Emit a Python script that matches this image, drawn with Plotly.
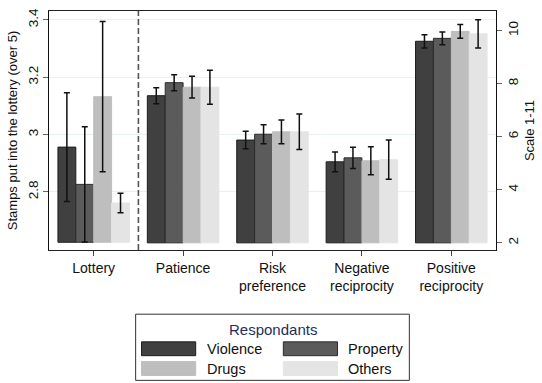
import plotly.graph_objects as go

# Categories on the x axis (Lottery on the left axis, the rest on the 1-11 scale)
categories = ["Lottery", "Patience", "Risk<br>preference", "Negative<br>reciprocity", "Positive<br>reciprocity"]
groups = ["Violence", "Property", "Drugs", "Others"]

# Lottery: stamps put into the lottery (over 5), mean and CI half-width
lottery_mean = {"Violence": 2.956, "Property": 2.826, "Drugs": 3.132, "Others": 2.761}
lottery_err = {"Violence": 0.190, "Property": 0.201, "Drugs": 0.262, "Others": 0.034}

# Preference scales 1-11: Patience, Risk, Negative reciprocity, Positive reciprocity
scale_mean = {
    "Violence": [7.54, 5.87, 5.05, 9.59],
    "Property": [8.03, 6.09, 5.20, 9.70],
    "Drugs":    [7.86, 6.18, 5.09, 9.96],
    "Others":   [7.86, 6.18, 5.13, 9.87],
}
scale_err = {
    "Violence": [0.30, 0.33, 0.37, 0.25],
    "Property": [0.30, 0.36, 0.40, 0.24],
    "Drugs":    [0.41, 0.45, 0.53, 0.26],
    "Others":   [0.64, 0.67, 0.74, 0.53],
}

left_ticks = [2.8, 3.0, 3.2, 3.4]
left_ticktext = ["2.8", "3", "3.2", "3.4"]
right_ticks = [2, 4, 6, 8, 10]

LOTTERY_BASE = 2.624
SCALE_BASE = 2.0

fill = {"Violence": "#404040", "Property": "#5b5b5b", "Drugs": "#bebebe", "Others": "#e4e4e4"}
edge = {"Violence": "#1c1c1c", "Property": "#2c2c2c", "Drugs": "#bebebe", "Others": "#e4e4e4"}

FONT = "Liberation Sans, Arial, Helvetica, sans-serif"
W, H = 542, 383
ML, MR, MT, MB = 49, 39, 8, 133
PW, PH = W - ML - MR, H - MT - MB

bar_w = 0.2
fig = go.Figure()
for i, g in enumerate(groups):
    off = -0.4 + i * bar_w
    err_style = dict(type="data", visible=True, thickness=1.5, width=3, color="#111111")
    fig.add_trace(go.Bar(
        x=[0], y=[lottery_mean[g] - LOTTERY_BASE], base=[LOTTERY_BASE],
        width=bar_w, offset=off, yaxis="y",
        marker=dict(color=fill[g], line=dict(color=edge[g], width=1)),
        error_y=dict(array=[lottery_err[g]], **err_style),
        showlegend=False, name=g,
    ))
    fig.add_trace(go.Bar(
        x=[1, 2, 3, 4], y=[v - SCALE_BASE for v in scale_mean[g]],
        base=[SCALE_BASE] * 4, width=bar_w, offset=off, yaxis="y2",
        marker=dict(color=fill[g], line=dict(color=edge[g], width=1)),
        error_y=dict(array=scale_err[g], **err_style),
        showlegend=False, name=g,
    ))


def px_x(p):
    return (p - ML) / PW


def px_y(p):
    return (H - MB - p) / PH


shapes = [
    # separator between the lottery and the preference scales
    dict(type="line", xref="x", yref="paper", x0=0.5, x1=0.5, y0=0, y1=1,
         line=dict(color="#555555", width=1.6, dash="6px,3px")),
]
annotations = []

# Legend box drawn below the plot
shapes.append(dict(type="rect", xref="paper", yref="paper",
                   x0=px_x(137), x1=px_x(415), y0=px_y(382), y1=px_y(315),
                   line=dict(color="#333333", width=1), fillcolor="white", layer="below"))
annotations.append(dict(text="Respondants", xref="paper", yref="paper",
                        x=px_x(277), y=px_y(330), showarrow=False,
                        font=dict(family=FONT, size=15, color="#1f2d5c"),
                        xanchor="center", yanchor="middle"))
legend_pos = {"Violence": (143, 350), "Property": (287, 350),
              "Drugs": (143, 370), "Others": (287, 370)}
for g in groups:
    sx, sy = legend_pos[g]
    shapes.append(dict(type="rect", xref="paper", yref="paper",
                       x0=px_x(sx), x1=px_x(sx + 55), y0=px_y(sy + 7), y1=px_y(sy - 7),
                       fillcolor=fill[g], line=dict(color=edge[g], width=1)))
    annotations.append(dict(text=g, xref="paper", yref="paper",
                            x=px_x(sx + 64), y=px_y(sy), showarrow=False,
                            font=dict(family=FONT, size=14.5, color="#111111"),
                            xanchor="left", yanchor="middle"))

fig.update_layout(
    width=W, height=H,
    margin=dict(l=ML, r=MR, t=MT, b=MB, pad=0),
    paper_bgcolor="white", plot_bgcolor="white",
    barmode="overlay", showlegend=False,
    font=dict(family=FONT, size=13, color="#111111"),
    xaxis=dict(range=[-0.5, 4.5], tickvals=list(range(5)), ticktext=categories,
               ticks="outside", ticklen=5, tickcolor="#444444",
               showline=True, linecolor="#222222", linewidth=1.2, mirror=True,
               showgrid=False, zeroline=False, tickfont=dict(size=14)),
    yaxis=dict(range=[2.597, 3.431], tickvals=left_ticks, ticktext=left_ticktext,
               tickangle=-90, ticks="outside", ticklen=5, tickcolor="#666666",
               showline=True, linecolor="#111111", linewidth=1.2, mirror=True,
               showgrid=True, gridcolor="#e8f0f1", gridwidth=1, zeroline=False,
               tickfont=dict(size=13.5),
               title=dict(text="Stamps put into the lottery (over 5)", font=dict(size=13), standoff=4)),
    yaxis2=dict(range=[1.73, 10.73], tickvals=right_ticks, overlaying="y", side="right",
                tickangle=-90, ticks="outside", ticklen=5, tickcolor="#666666",
                showline=True, linecolor="#111111", linewidth=1.2,
                showgrid=False, zeroline=False, tickfont=dict(size=13.5),
                title=dict(text="Scale 1-11", font=dict(size=13), standoff=4)),
    shapes=shapes, annotations=annotations,
)

fig.write_html("out.html")
